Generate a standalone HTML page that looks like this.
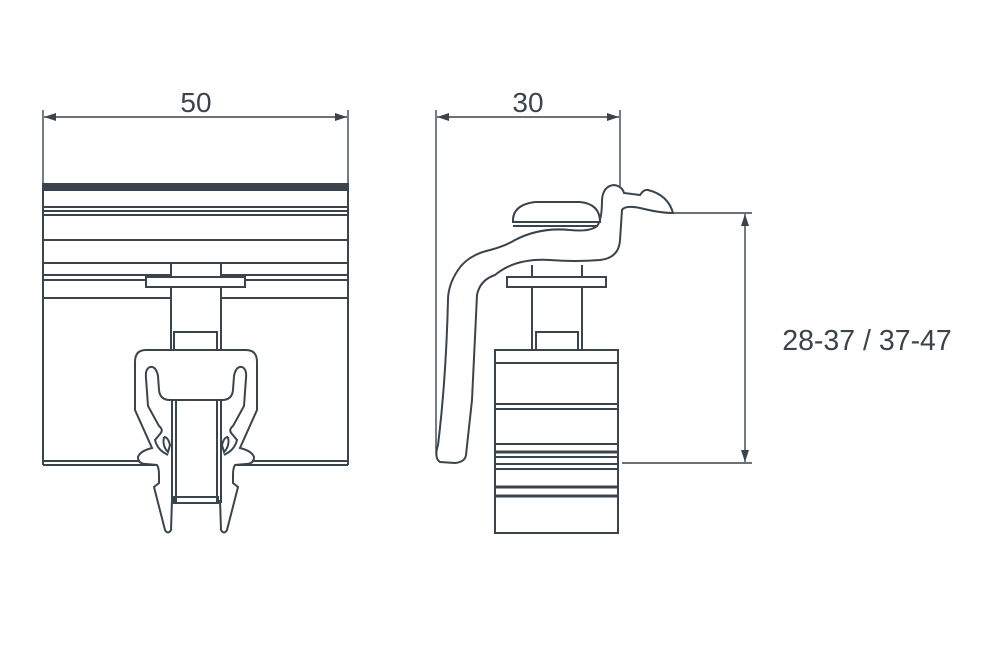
<!DOCTYPE html>
<html><head><style>
html,body{margin:0;padding:0;background:#fff;}
svg{display:block}
text{font-family:"Liberation Sans",sans-serif;fill:#3a444c;}
</style></head><body>
<svg width="992" height="661" viewBox="0 0 992 661" xmlns="http://www.w3.org/2000/svg">
<defs>
<marker id="a" viewBox="0 0 12 8" refX="12" refY="4" markerWidth="12" markerHeight="8" orient="auto-start-reverse" markerUnits="userSpaceOnUse">
<path d="M0,0 L12,4 L0,8 z" fill="#3a444c"/>
</marker>
</defs>
<g stroke="#3a444c" stroke-width="1.4" fill="none">
<line x1="43" y1="110" x2="43" y2="184"/>
<line x1="348" y1="110" x2="348" y2="184"/>
<line x1="44" y1="117" x2="347" y2="117" marker-start="url(#a)" marker-end="url(#a)"/>
<line x1="436" y1="110" x2="436" y2="455"/>
<line x1="620" y1="110" x2="620" y2="186"/>
<line x1="437" y1="117" x2="619" y2="117" marker-start="url(#a)" marker-end="url(#a)"/>
<line x1="672" y1="213" x2="752" y2="213"/>
<line x1="622" y1="463" x2="752" y2="463"/>
<line x1="745" y1="214" x2="745" y2="462" marker-start="url(#a)" marker-end="url(#a)"/>
</g>
<text x="196" y="112" font-size="28" text-anchor="middle">50</text>
<text x="528" y="112" font-size="28" text-anchor="middle">30</text>
<text x="867" y="350" font-size="28.5" text-anchor="middle">28-37 / 37-47</text>

<g stroke="#3a444c" stroke-width="2" fill="none">
<rect x="43" y="184" width="305" height="6" fill="#3a444c"/>
<line x1="43" y1="184" x2="43" y2="465"/>
<line x1="348" y1="184" x2="348" y2="465"/>
<line x1="43" y1="207" x2="348" y2="207"/>
<line x1="43" y1="211" x2="348" y2="211"/>
<line x1="43" y1="215" x2="348" y2="215"/>
<line x1="43" y1="240" x2="348" y2="240"/>
<line x1="43" y1="263" x2="348" y2="263"/>
<line x1="43" y1="275" x2="171" y2="275"/><line x1="221" y1="275" x2="348" y2="275"/>
<line x1="43" y1="280" x2="146" y2="280"/><line x1="245" y1="280" x2="348" y2="280"/>
<line x1="43" y1="298" x2="171" y2="298"/><line x1="221" y1="298" x2="348" y2="298"/>
<line x1="43" y1="461" x2="140" y2="461"/><line x1="252" y1="461" x2="348" y2="461"/>
<line x1="43" y1="465" x2="156" y2="465"/><line x1="236" y1="465" x2="348" y2="465"/>
<line x1="171" y1="263" x2="171" y2="350"/>
<line x1="221" y1="263" x2="221" y2="350"/>
<rect x="146" y="277" width="99" height="10" fill="#fff"/>
<rect x="174" y="332" width="43" height="18"/>
<line x1="172" y1="400" x2="172" y2="503"/>
<line x1="176" y1="400" x2="176" y2="503"/>
<line x1="217" y1="400" x2="217" y2="503"/>
<line x1="221" y1="400" x2="221" y2="503"/>
<rect x="174" y="497" width="44" height="6"/>
<g id="clip">
<path d="M196,350 L146,350 Q135,350 135,362 L135,410 L152,448 Q140,451 138,457 Q138,464 146,464 L157,465 Q159,468 159,475 L159,483 L154,487 L165,530 Q168,535 171,530 L172,500"/>
<path d="M196,400 L170,400 Q160,400 159,390 L158,376 Q156,366 150,367 Q145,369 146,378 L148,406 L159,426 Q164,430 160,434 L155,440 Q157,448 163,452 L168,455"/>
<path d="M164,437 Q168,437 170,445 L168,452 Q162,446 164,437"/>
</g>
<use href="#clip" transform="translate(392,0) scale(-1,1)"/>

<line x1="532" y1="265" x2="532" y2="350"/>
<line x1="582" y1="265" x2="582" y2="350"/>
<rect x="536" y="332" width="42" height="18"/>
<rect x="507" y="277" width="99" height="10" fill="#fff"/>
<rect x="495" y="350" width="123" height="183"/>
<line x1="495" y1="363" x2="618" y2="363"/>
<line x1="495" y1="404" x2="618" y2="404"/>
<line x1="495" y1="409" x2="618" y2="409"/>
<line x1="495" y1="444" x2="618" y2="444"/>
<line x1="495" y1="452" x2="618" y2="452" stroke-width="3"/>
<line x1="495" y1="457" x2="618" y2="457"/>
<line x1="495" y1="464" x2="618" y2="464"/>
<line x1="495" y1="469" x2="618" y2="469"/>
<line x1="495" y1="487" x2="618" y2="487" stroke-width="3"/>
<line x1="495" y1="496" x2="618" y2="496" stroke-width="3"/>
<path fill="#fff" d="M440,462 Q434,458 438,445 Q446,380 448,300 Q448,285 458,270 Q468,255 490,250 Q505,246 515,240 Q540,227 570,230 Q590,232 597,226 Q602,220 602,200 Q603,186 614,185 Q622,186 624,193 L640,195 Q644,189 648,190 Q668,195 673,213 Q660,213 640,208 Q625,205 622,210 L620,240 Q619,258 600,260 Q575,262 550,260 Q515,258 495,275 Q480,280 477,295 L472,400 L466,455 Q465,462 455,463 Z"/>
<path d="M513,222 Q512,205 535,202 L580,202 Q600,204 600,222 Z" fill="#fff"/>
<line x1="513" y1="226" x2="598" y2="226"/>
</g>
</svg>
</body></html>
